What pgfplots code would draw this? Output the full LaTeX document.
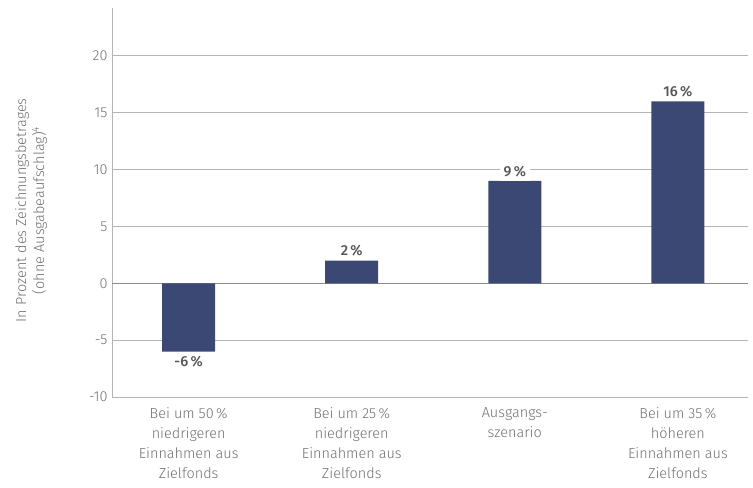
\documentclass[border=0pt]{standalone}
\usepackage{pgfplots}
\pgfplotsset{compat=1.18}
\usepackage{fontspec}
\setmainfont{Fira Sans}[UprightFont={* Light},BoldFont={* Medium}]
\definecolor{barblue}{HTML}{3C4874}
\definecolor{ticktext}{HTML}{707070}
\definecolor{valtext}{HTML}{555555}
\definecolor{gridgray}{HTML}{B4B4B4}
\definecolor{zerogray}{HTML}{8C8C8C}
\begin{document}
\begin{tikzpicture}
\begin{axis}[
  name=ax,
  scale only axis,
  width=636bp, height=389bp,
  xmin=-0.47, xmax=3.43,
  ymin=-10, ymax=24.2,
  axis lines=left,
  axis line style={-, draw=gridgray, line width=0.8pt},
  ytick={-10,-5,0,5,10,15,20},
  xtick=data,
  xticklabels={
    {Bei um 50\,\%\\niedrigeren\\Einnahmen aus\\Zielfonds},
    {Bei um 25\,\%\\niedrigeren\\Einnahmen aus\\Zielfonds},
    {Ausgangs-\\szenario},
    {Bei um 35\,\%\\höheren\\Einnahmen aus\\Zielfonds}},
  major tick length=0pt,
  ymajorgrids,
  grid style={draw=gridgray, line width=0.8pt},
  extra y ticks={0},
  extra y tick labels={},
  extra y tick style={grid style={draw=zerogray, line width=0.8pt}},
  /pgf/number format/assume math mode=true,
  tick label style={text=ticktext, font=\fontsize{14.5}{20}\selectfont},
  xticklabel style={align=center, anchor=north, yshift=-7bp},
  yticklabel style={xshift=-1bp},
  ylabel={In Prozent des Zeichnungsbetrages\\(ohne Ausgabeaufschlag)\textsuperscript{4}},
  ylabel style={at={(axis description cs:-0.127,0.48)}, anchor=center, align=center,
    text=ticktext, font=\fontsize{14.5}{18}\selectfont},
  ybar, bar width=53bp,
  nodes near coords={\pgfmathprintnumber\pgfplotspointmeta\,\%},
  nodes near coords style={font=\bfseries\fontsize{14.5}{16}\selectfont, text=valtext,
    fill=white, inner sep=4bp, /pgf/number format/assume math mode=true},
  clip=false,
]
\addplot[draw=none, fill=barblue] coordinates {(0,-6) (1,2) (2,9) (3,16)};
\end{axis}
\pgfresetboundingbox
\path[use as bounding box] ([xshift=-112bp,yshift=-90bp]ax.south west) rectangle ([xshift=5bp,yshift=8bp]ax.north east);
\end{tikzpicture}
\end{document}
